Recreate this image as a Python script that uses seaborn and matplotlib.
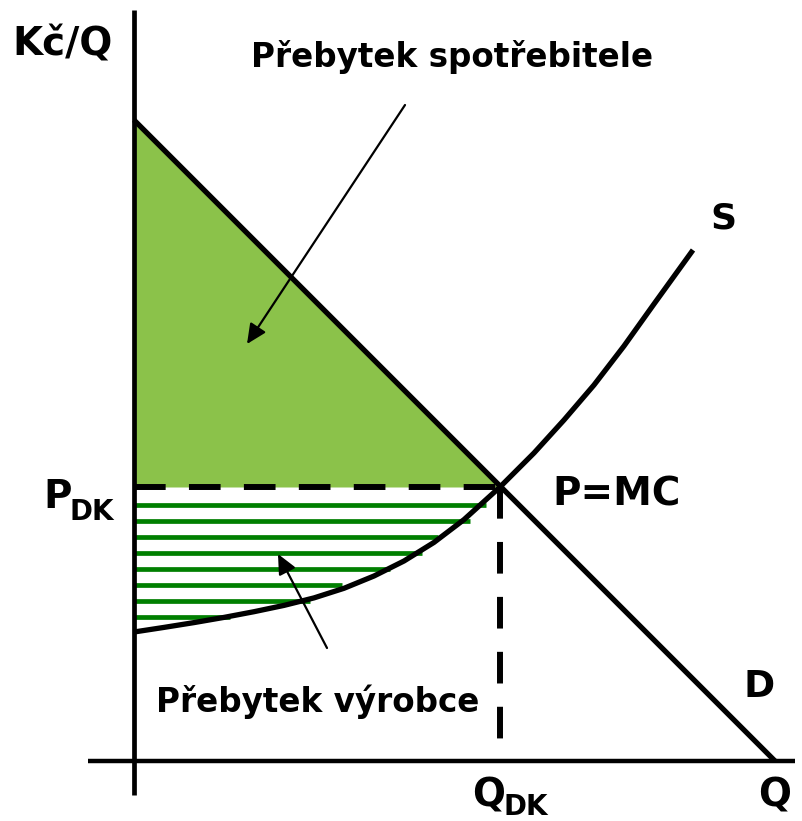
import numpy as np
import matplotlib
matplotlib.use("Agg")
import matplotlib.pyplot as plt
import seaborn as sns
import pandas as pd

# ---- data (units: quantity Q, price Kč/Q) ----
demand_q = [0, 641]
demand_p = [641, 0]

supply_q = [0, 30, 60, 90, 120, 150, 180, 210, 240, 270, 300, 330, 366,
            400, 430, 460, 490, 520, 559]
supply_p = [129, 133.6, 138.4, 143.6, 149.3, 155.6, 163.1, 172.7, 185, 200,
            218.6, 241.4, 274, 308, 341, 376, 415, 457, 511]

q_eq = 366
p_eq = 274

hatch_levels = [256, 240, 224, 208, 192, 176, 160, 144]
hatch_ends = [352, 336, 304, 288, 256, 208, 176, 96]

labels = {
    "axis_y": "Kč/Q",
    "axis_x": "Q",
    "cs": "Přebytek spotřebitele",
    "ps": "Přebytek výrobce",
    "S": "S",
    "D": "D",
    "eq": "P=MC",
}

sns.set_theme(style="white")
plt.rcParams["font.family"] = ["DejaVu Sans"]

fig = plt.figure(figsize=(8.02, 8.21), dpi=100)
ax = fig.add_axes([0, 0, 1, 1])
ax.set_xlim(-134, 668)
ax.set_ylim(-60, 761)
ax.axis("off")

BLACK = "black"
LIGHT_GREEN = "#8BC24A"
DARK_GREEN = "#007F00"

# consumer surplus triangle
cs_x = [0, q_eq]
cs_top = list(np.interp(cs_x, demand_q, demand_p))
ax.fill_between(cs_x, cs_top, [p_eq, p_eq], color=LIGHT_GREEN, lw=0, zorder=1)

# producer surplus hatching
ax.hlines(hatch_levels, [0] * len(hatch_levels), hatch_ends, color=DARK_GREEN,
          lw=3.4, zorder=2)

# dashed equilibrium lines
ax.plot([0, q_eq], [p_eq, p_eq], color=BLACK, lw=4.3,
        linestyle=(0, (5.3, 3.9)), zorder=3)
ax.plot([q_eq, q_eq], [p_eq, 0], color=BLACK, lw=4.3,
        linestyle=(0, (5.3, 3.9)), zorder=3)

# demand & supply
dem = pd.DataFrame({"Q": demand_q, "P": demand_p})
sup = pd.DataFrame({"Q": supply_q, "P": supply_p})
sns.lineplot(data=dem, x="Q", y="P", ax=ax, color=BLACK, lw=3.8,
             sort=False, estimator=None, zorder=4)
sns.lineplot(data=sup, x="Q", y="P", ax=ax, color=BLACK, lw=3.8,
             sort=False, estimator=None, zorder=4)
for ln in ax.lines[-2:]:
    ln.set_solid_capstyle("butt")
    ln.set_solid_joinstyle("round")

# axes
ax.plot([0, 0], [751, -34], color=BLACK, lw=3.4, zorder=5, solid_capstyle="butt")
ax.plot([-46, 661], [0, 0], color=BLACK, lw=3.2, zorder=5, solid_capstyle="butt")

# arrows
arrow_kw = dict(arrowstyle="-|>,head_length=0.6,head_width=0.28", mutation_scale=20,
                lw=1.6, color=BLACK, shrinkA=0, shrinkB=0)
ax.annotate("", xy=(113, 417), xytext=(271, 656), arrowprops=arrow_kw, zorder=6)
ax.annotate("", xy=(144, 207), xytext=(193, 113), arrowprops=arrow_kw, zorder=6)

# texts
tkw = dict(fontweight="bold", color=BLACK, va="baseline", zorder=7)
ax.text(-122, 706, labels["axis_y"], fontsize=28, ha="left", **tkw)
ax.text(318, 694, labels["cs"], fontsize=23.5, ha="center", **tkw)
ax.text(184, 49, labels["ps"], fontsize=23.5, ha="center", **tkw)
ax.text(589, 533, labels["S"], fontsize=26, ha="center", **tkw)
ax.text(625, 64, labels["D"], fontsize=27, ha="center", **tkw)
ax.text(418, 256, labels["eq"], fontsize=28, ha="left", **tkw)
ax.text(641, -45, labels["axis_x"], fontsize=28, ha="center", **tkw)
ax.text(338, -45, "Q", fontsize=28, ha="left", **tkw)
ax.text(369, -54, "DK", fontsize=20, ha="left", **tkw)
ax.text(-91, 253, "P", fontsize=28, ha="left", **tkw)
ax.text(-64, 241, "DK", fontsize=20, ha="left", **tkw)

fig.savefig("out.png", dpi=100)
